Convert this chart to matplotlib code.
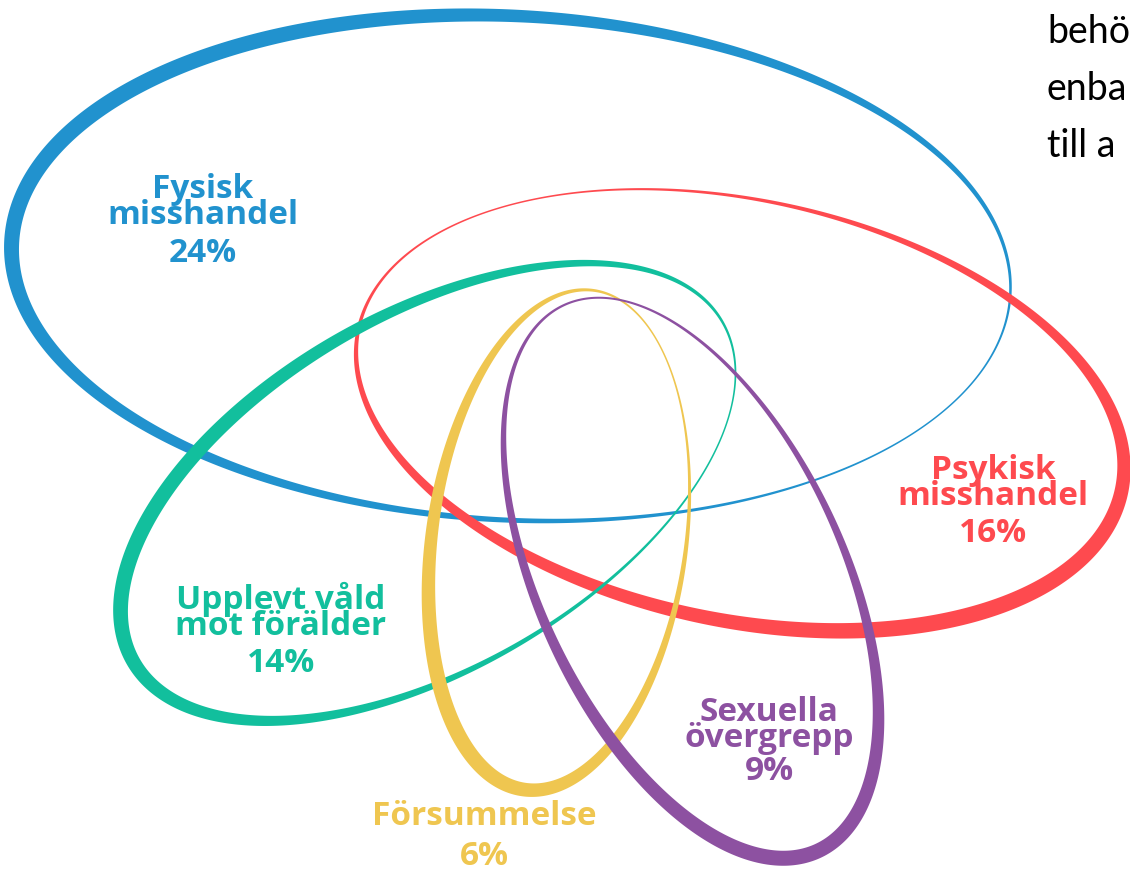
import numpy as np
import matplotlib
matplotlib.use("Agg")
import matplotlib.pyplot as plt

# categories and shares
names = ["Fysisk\nmisshandel", "Psykisk\nmisshandel", "Upplevt våld\nmot förälder",
         "Försummelse", "Sexuella\növergrepp"]
shares = [24, 16, 14, 6, 9]
colors = ["#2192CE", "#FE4A4F", "#12BF9D", "#EFC650", "#8D51A1"]

# ellipse geometry in pixel space: centre, semi axes, tilt (deg, clockwise)
centres = [(511, 268), (740, 410), (428, 492), (559, 540), (691, 578)]
semi_a = [500, 390, 340, 252, 301]
semi_b = [252, 210, 177, 127, 152]
tilts = [3, 12, -30, -82, -115]
# parameter angle of the thick part of each ring and the stroke widths
thick_at = [210, 45, 212, 215, 195]
w_max = [16, 16, 15, 15, 15]
w_min = [1.5, 1.5, 1.5, 1.5, 2.0]

# label anchor (x centre, baseline of last name line, baseline of percent)
label_x = [203, 993, 281, 484, 769]
label_y = [224, 505, 635, 825, 747]
pct_y = [262, 542, 672, 865, 780]

side_text = ["behö", "enba", "till a"]


def ring(ax, c, a, b, tilt, tb, wmax, wmin, color, z):
    t = np.linspace(0, 2 * np.pi, 900)
    phi = np.radians(tilt)
    ux, uy = np.cos(phi), np.sin(phi)
    vx, vy = -np.sin(phi), np.cos(phi)
    px = c[0] + a * np.cos(t) * ux + b * np.sin(t) * vx
    py = c[1] + a * np.cos(t) * uy + b * np.sin(t) * vy
    dx = -a * np.sin(t) * ux + b * np.cos(t) * vx
    dy = -a * np.sin(t) * uy + b * np.cos(t) * vy
    n = np.hypot(dx, dy)
    nx, ny = dy / n, -dx / n
    w = wmin + (wmax - wmin) * (1 + np.cos(t - np.radians(tb))) / 2
    ox, oy = px + nx * w / 2, py + ny * w / 2
    ix, iy = px - nx * w / 2, py - ny * w / 2
    ax.fill(np.r_[ox, ix[::-1]], np.r_[oy, iy[::-1]], color=color, lw=0, zorder=z)


fig = plt.figure(figsize=(11.3, 8.72), dpi=100)
ax = fig.add_axes([0, 0, 1, 1])
ax.set_xlim(0, 1130)
ax.set_ylim(872, 0)
ax.axis("off")

for i in range(len(names)):
    ring(ax, centres[i], semi_a[i], semi_b[i], tilts[i], thick_at[i],
         w_max[i], w_min[i], colors[i], i + 1)

for i in range(len(names)):
    ax.text(label_x[i], label_y[i], names[i], color=colors[i], fontsize=24,
            family="Open Sans", fontweight="bold", ha="center", va="baseline",
            multialignment="center", linespacing=0.74, zorder=10)
    ax.text(label_x[i], pct_y[i], f"{shares[i]}%", color=colors[i], fontsize=24,
            family="Open Sans", fontweight="bold", ha="center", va="baseline", zorder=10)

for k, s in enumerate(side_text):
    ax.text(1047, 43 + k * 57, s, color="black", fontsize=27, family="Lato",
            ha="left", va="baseline", zorder=10)

fig.savefig("out.png", dpi=100)
